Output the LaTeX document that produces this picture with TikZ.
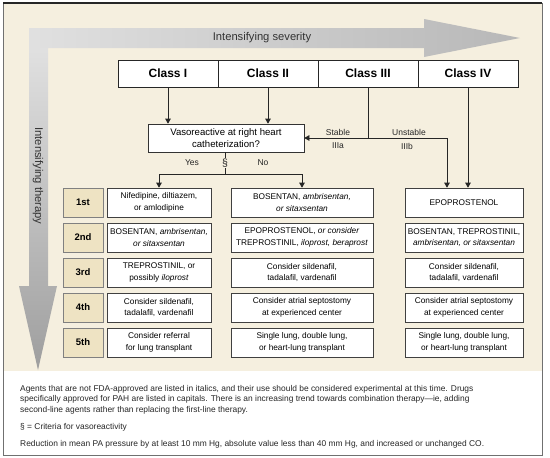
\documentclass[tikz,border=0pt]{standalone}
\usepackage{fontspec}
\setmainfont{Liberation Sans}
\usetikzlibrary{arrows.meta}
\definecolor{bg}{HTML}{F5EFDF}
\definecolor{lab}{HTML}{EEE3C3}
\definecolor{frm}{HTML}{707070}
\begin{document}
\begin{tikzpicture}[x=1pt,y=-1pt,
  cls/.style={draw=black!85, line width=0.7pt, fill=white, minimum width=100pt, minimum height=27pt, inner sep=0pt, font=\bfseries\fontsize{12}{13}\selectfont},
  rowlab/.style={draw=black!50, line width=0.6pt, fill=lab, minimum width=40pt, minimum height=29pt, inner sep=0pt, font=\bfseries\fontsize{9.5}{11}\selectfont},
  cell/.style={draw=black!75, line width=0.6pt, fill=white, minimum height=29pt, inner sep=0pt, align=center, font=\fontsize{8.3}{11.5}\selectfont},
  colA/.style={cell, minimum width=104pt},
  colB/.style={cell, minimum width=142pt},
  colC/.style={cell, minimum width=118pt},
  con/.style={draw=black!85, line width=0.6pt},
  arr/.style={con, -{Triangle[width=5.5pt,length=5pt]}},
  lbl/.style={font=\fontsize{8.5}{10}\selectfont, inner sep=1pt, text=black!85},
  captxt/.style={font=\fontsize{8.4}{10.5}\selectfont, inner sep=0pt, anchor=base west, align=left, text=black!85},
  bigt/.style={font=\fontsize{11.2}{12}\selectfont, text=black!80, inner sep=0pt}
]
\useasboundingbox (0,0) rectangle (550,458);
% background and frame
\fill[bg] (3,3) rectangle (542,371);
\fill[white] (3,371) rectangle (542,455);
\draw[frm, line width=0.8pt] (3,3) rectangle (542,455);
\draw[black!85, line width=1.2pt] (3,3) -- (542,3);
% gray arrows
\shade[left color=black!12, right color=black!28] (29,28) -- (424,28) -- (424,19) -- (520,38) -- (424,57) -- (424,48) -- (29,48) -- cycle;
\shade[top color=black!12, bottom color=black!38] (29,48) -- (48,48) -- (48,286) -- (57,286) -- (38,370) -- (19,286) -- (29,286) -- cycle;
\node[bigt] (sev) at (262,38) {Intensifying severity};
\node[bigt, rotate=-90] (ther) at (38,176) {Intensifying therapy};
% classes
\node[cls] (c1) at (168,73.5) {Class I};
\node[cls] (c2) at (268,73.5) {Class II};
\node[cls] (c3) at (368,73.5) {Class III};
\node[cls] (c4) at (468,73.5) {Class IV};
% vasoreactive
\node[draw=black!80, line width=0.6pt, fill=white, minimum width=156pt, minimum height=28pt, inner sep=0pt, align=center, font=\fontsize{9.6}{11.5}\selectfont] (vaso) at (226,138) {Vasoreactive at right heart\\catheterization?};
% row labels
\node[rowlab] (r1) at (83,202.5) {1st};
\node[rowlab] (r2) at (83,237.5) {2nd};
\node[rowlab] (r3) at (83,272.5) {3rd};
\node[rowlab] (r4) at (83,307.5) {4th};
\node[rowlab] (r5) at (83,342.5) {5th};
% column 1
\node[colA] (a1) at (159,202.5) {Nifedipine, diltiazem,\\or amlodipine};
\node[colA] (a2) at (159,237.5) {BOSENTAN, \textit{ambrisentan,}\\\textit{or sitaxsentan}};
\node[colA] (a3) at (159,272.5) {TREPROSTINIL, or\\possibly \textit{iloprost}};
\node[colA] (a4) at (159,307.5) {Consider sildenafil,\\tadalafil, vardenafil};
\node[colA] (a5) at (159,342.5) {Consider referral\\for lung transplant};
% column 2
\node[colB] (b1) at (302,202.5) {BOSENTAN, \textit{ambrisentan,}\\\textit{or sitaxsentan}};
\node[colB] (b2) at (302,237.5) {EPOPROSTENOL, \textit{or consider}\\TREPROSTINIL, \textit{iloprost, beraprost}};
\node[colB] (b3) at (302,272.5) {Consider sildenafil,\\tadalafil, vardenafil};
\node[colB] (b4) at (302,307.5) {Consider atrial septostomy\\at experienced center};
\node[colB] (b5) at (302,342.5) {Single lung, double lung,\\or heart-lung transplant};
% column 3
\node[colC] (e1) at (464,202.5) {EPOPROSTENOL};
\node[colC] (e2) at (464,237.5) {BOSENTAN, TREPROSTINIL,\\\textit{ambrisentan, or sitaxsentan}};
\node[colC] (e3) at (464,272.5) {Consider sildenafil,\\tadalafil, vardenafil};
\node[colC] (e4) at (464,307.5) {Consider atrial septostomy\\at experienced center};
\node[colC] (e5) at (464,342.5) {Single lung, double lung,\\or heart-lung transplant};
% connectors from classes
\draw[arr] (c1.south) -- (c1.south |- vaso.north);
\draw[arr] (c2.south) -- (c2.south |- vaso.north);
\coordinate (j3) at (c3.south |- vaso.east);
\coordinate (ju) at (447,138);
\draw[con] (c3.south) -- (j3);
\draw[arr] (j3) -- (vaso.east);
\draw[arr] (j3) -- (ju) -- (ju |- e1.north);
\draw[arr] (c4.south) -- (c4.south |- e1.north);
\node[lbl] (stab) at (338,132) {Stable};
\node[lbl] (s3a) at (338,146) {IIIa};
\node[lbl] (unst) at (409,132) {Unstable};
\node[lbl] (s3b) at (407,146) {IIIb};
% yes / no split
\coordinate (jy) at (225,174);
\draw[con] (vaso.south -| jy) -- (jy);
\node[lbl, fill=bg, inner sep=0.3pt, font=\fontsize{10.5}{11}\selectfont] (sect) at (225,163) {§};
\node[lbl] (yes) at (192,163) {Yes};
\node[lbl] (no) at (263,163) {No};
\draw[con] (a1.north |- jy) -- (b1.north |- jy);
\draw[arr] (a1.north |- jy) -- (a1.north);
\draw[arr] (b1.north |- jy) -- (b1.north);
% caption
\node[captxt] (p1a) at (20,391) {Agents that are not FDA-approved are listed in italics, and their use should be considered experimental at this time. Drugs};
\node[captxt] (p1b) at (20,401.5) {specifically approved for PAH are listed in capitals. There is an increasing trend towards combination therapy---ie, adding};
\node[captxt] (p1c) at (20,412) {second-line agents rather than replacing the first-line therapy.};
\node[captxt] (p2) at (20,429) {§ = Criteria for vasoreactivity};
\node[captxt] (p3) at (20,446) {Reduction in mean PA pressure by at least 10 mm Hg, absolute value less than 40 mm Hg, and increased or unchanged CO.};
\end{tikzpicture}
\end{document}
